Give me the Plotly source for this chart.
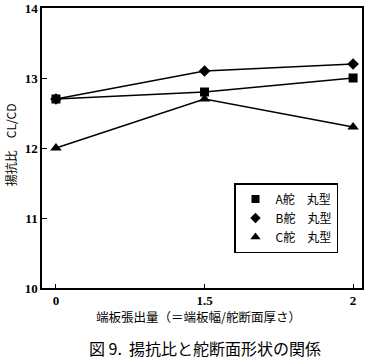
import plotly.graph_objects as go

categories = ["0", "1.5", "2"]
series_names = ["A舵　丸型", "B舵　丸型", "C舵　丸型"]
a_values = [12.7, 12.8, 13.0]
b_values = [12.7, 13.1, 13.2]
c_values = [12.0, 12.7, 12.3]
y_ticks = [10, 11, 12, 13, 14]

symbols = ["square", "diamond", "triangle-up"]
sizes = [9, 9, 10]
values = [a_values, b_values, c_values]

fig = go.Figure()
for name, vals, sym, sz in zip(series_names, values, symbols, sizes):
    fig.add_trace(go.Scatter(
        x=categories, y=vals, mode="lines+markers", showlegend=False,
        line=dict(color="black", width=1.5),
        marker=dict(symbol=sym, size=sz, color="black"),
    ))
    fig.add_trace(go.Scatter(
        x=[None], y=[None], mode="markers", name=name,
        marker=dict(symbol=sym, size=sz - 1, color="black"),
    ))

num_font = dict(family="Liberation Serif", size=13, color="black", weight="bold")
jp = "Noto Sans CJK JP"

fig.update_layout(
    width=370, height=362,
    margin=dict(l=42, r=8, t=8, b=74),
    paper_bgcolor="white", plot_bgcolor="white",
    showlegend=True,
    legend=dict(
        x=0.6, y=0.375, xanchor="left", yanchor="top",
        bordercolor="black", borderwidth=1.5, bgcolor="white",
        font=dict(family=jp, size=12, color="black"),
        itemwidth=30, tracegroupgap=2,
    ),
    xaxis=dict(
        type="category", range=[-0.094, 2.06], automargin=False,
        showline=True, linecolor="black", linewidth=1.5, mirror=True,
        ticks="inside", ticklen=4, tickcolor="black",
        showgrid=False, zeroline=False, tickfont=num_font,
    ),
    yaxis=dict(
        range=[10, 14], tickvals=y_ticks, automargin=False,
        showline=True, linecolor="black", linewidth=1.5, mirror=True,
        ticks="inside", ticklen=5, tickcolor="black",
        showgrid=False, zeroline=False, tickfont=num_font,
    ),
)

fig.add_annotation(
    text="揚抗比　CL/CD", xref="paper", yref="paper",
    x=-0.1, y=0.51, xanchor="center", yanchor="middle", textangle=-90,
    showarrow=False, font=dict(family=jp, size=12, color="black"),
)
fig.add_annotation(
    text="端板張出量（＝端板幅/舵断面厚さ）", xref="paper", yref="paper",
    x=0.49, y=-0.1, xanchor="center", yanchor="middle", showarrow=False,
    font=dict(family=jp, size=12.5, color="black"),
)
fig.add_annotation(
    text="図 9.  揚抗比と舵断面形状の関係", xref="paper", yref="paper",
    x=0.51, y=-0.214, xanchor="center", yanchor="middle", showarrow=False,
    font=dict(family=jp, size=16, color="black"),
)

fig.write_html("out.html", config={"displayModeBar": False},
               post_script="document.body.style.margin='0';")
